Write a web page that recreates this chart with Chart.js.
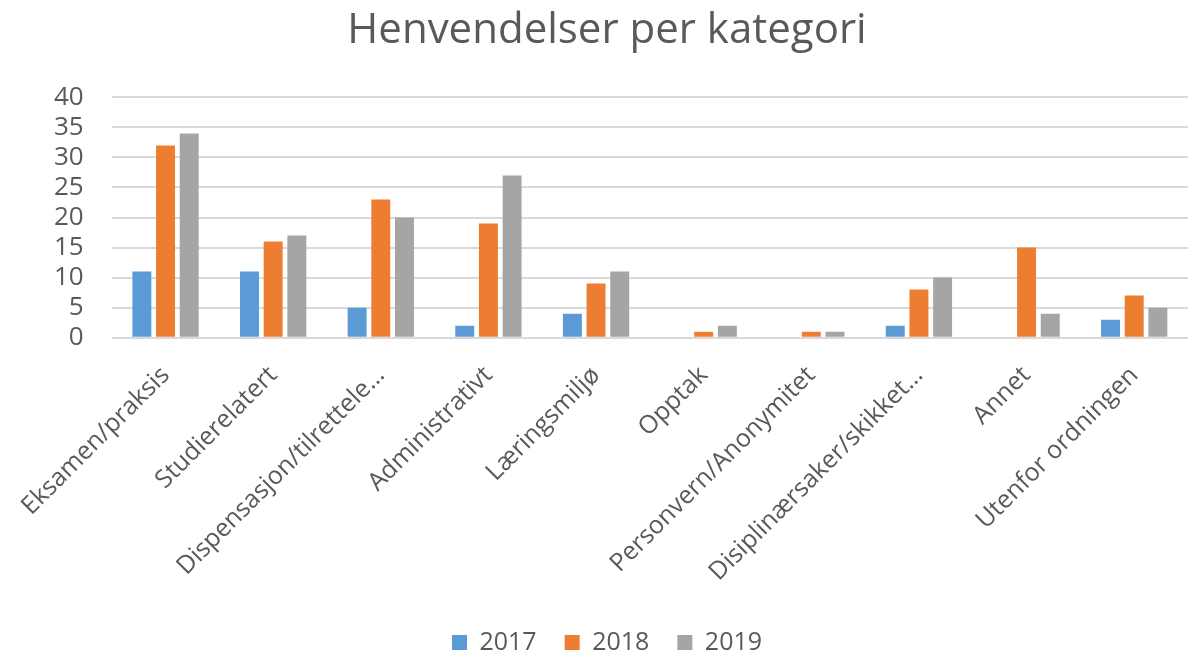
<!DOCTYPE html>
<html>
<head>
<meta charset="utf-8">
<script src="https://cdn.jsdelivr.net/npm/chart.js@4"></script>
<style>
  html, body { margin: 0; padding: 0; background: #fff; }
  #wrap { width: 1188px; height: 652px; }
</style>
</head>
<body>
<div id="wrap"><canvas id="chart-div"></canvas></div>
<script>
var kategorier = [
    'Eksamen/praksis',
    'Studierelatert',
    'Dispensasjon/tilrettele…',
    'Administrativt',
    'Læringsmiljø',
    'Opptak',
    'Personvern/Anonymitet',
    'Disiplinærsaker/skikket…',
    'Annet',
    'Utenfor ordningen'
];
var aar2017 = [11, 11, 5, 2, 4, 0, 0, 2, 0, 3];
var aar2018 = [32, 16, 23, 19, 9, 1, 1, 8, 15, 7];
var aar2019 = [34, 17, 20, 27, 11, 2, 1, 10, 4, 5];
var yTicks = [0, 5, 10, 15, 20, 25, 30, 35, 40];

var font = "'Open Sans', 'Liberation Sans', sans-serif",
    tekst = '#595959';

var ctx = document.getElementById('chart-div').getContext('2d');

// legend: wide spacing between items but sitting low like the original
var lavLegend = {
    id: 'lavLegend',
    beforeUpdate: function (chart) {
        var leg = chart.legend;
        if (leg && !leg._lav) {
            var fit = leg.fit;
            leg.fit = function () {
                fit.call(this);
                this.height -= 13;
            };
            leg._lav = true;
        }
    }
};

var config = {
    type: 'bar',
    data: {
        labels: kategorier,
        datasets: [
            { label: '2017', data: aar2017, backgroundColor: '#5B9BD5' },
            { label: '2018', data: aar2018, backgroundColor: '#ED7D31' },
            { label: '2019', data: aar2019, backgroundColor: '#A5A5A5' }
        ]
    },
    plugins: [lavLegend],
    options: {
        responsive: true,
        maintainAspectRatio: false,
        animation: false,
        layout: { padding: { left: 26, right: 0, top: 0, bottom: 0 } },
        datasets: {
            bar: { categoryPercentage: 0.66, barPercentage: 0.8 }
        },
        plugins: {
            title: {
                display: true,
                text: 'Henvendelser per kategori',
                color: tekst,
                font: { family: font, size: 42, weight: 'normal' },
                padding: { top: 6, bottom: 41 }
            },
            legend: {
                display: true,
                position: 'bottom',
                labels: {
                    color: tekst,
                    font: { family: font, size: 25 },
                    boxWidth: 15,
                    boxHeight: 15,
                    padding: 28
                }
            },
            tooltip: { enabled: false }
        },
        scales: {
            x: {
                grid: { display: false },
                border: { display: false },
                ticks: {
                    color: tekst,
                    font: { family: font, size: 25 },
                    minRotation: 45,
                    maxRotation: 45,
                    autoSkip: false,
                    padding: 15
                }
            },
            y: {
                min: 0,
                max: 40,
                afterBuildTicks: function (axis) {
                    axis.ticks = yTicks.map(function (v) { return { value: v }; });
                },
                grid: { color: '#D9D9D9', lineWidth: 2, drawTicks: false },
                border: { display: false },
                ticks: {
                    color: tekst,
                    font: { family: font, size: 26 },
                    autoSkip: false,
                    padding: 28
                }
            }
        }
    }
};

new Chart(ctx, config);
</script>
</body>
</html>
